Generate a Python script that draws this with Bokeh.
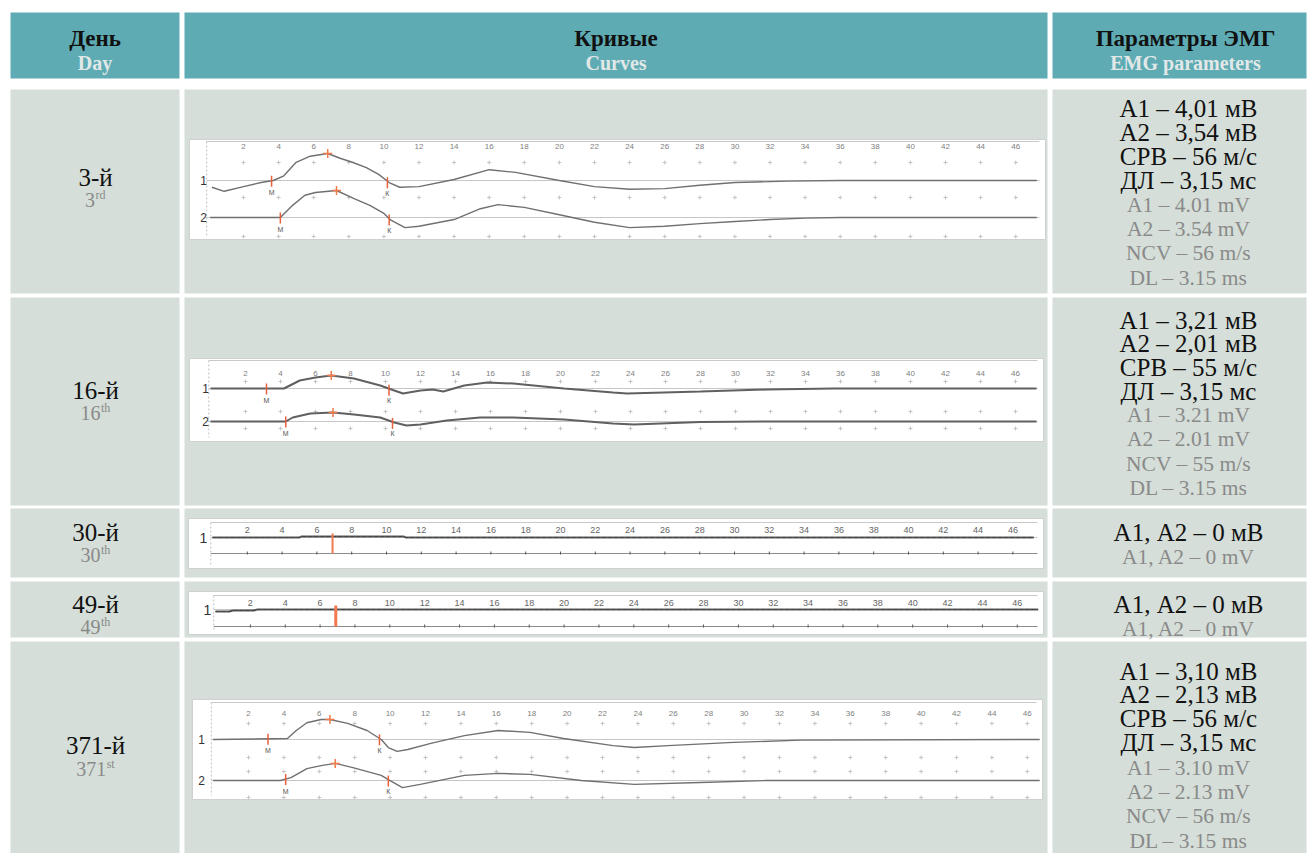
import numpy as np
from bokeh.plotting import figure
from bokeh.models import Range1d
from bokeh.core.properties import value
from bokeh.embed import file_html
from bokeh.resources import INLINE

# ---------------- data ----------------
headers_ru = ["День", "Кривые", "Параметры ЭМГ"]
headers_en = ["Day", "Curves", "EMG parameters"]

days_ru = ["3-й", "16-й", "30-й", "49-й", "371-й"]
days_en_num = ["3", "16", "30", "49", "371"]
days_en_sup = ["rd", "th", "th", "th", "st"]

params_ru = [
    ["А1 – 4,01 мВ", "А2 – 3,54 мВ", "СРВ – 56 м/с", "ДЛ – 3,15 мс"],
    ["А1 – 3,21 мВ", "А2 – 2,01 мВ", "СРВ – 55 м/с", "ДЛ – 3,15 мс"],
    ["А1, А2 – 0 мВ"],
    ["А1, А2 – 0 мВ"],
    ["А1 – 3,10 мВ", "А2 – 2,13 мВ", "СРВ – 56 м/с", "ДЛ – 3,15 мс"],
]
params_en = [
    ["A1 – 4.01 mV", "A2 – 3.54 mV", "NCV – 56 m/s", "DL – 3.15 ms"],
    ["A1 – 3.21 mV", "A2 – 2.01 mV", "NCV – 55 m/s", "DL – 3.15 ms"],
    ["A1, A2 – 0 mV"],
    ["A1, A2 – 0 mV"],
    ["A1 – 3.10 mV", "A2 – 2.13 mV", "NCV – 56 m/s", "DL – 3.15 ms"],
]

tick_ms = [2, 4, 6, 8, 10, 12, 14, 16, 18, 20, 22, 24, 26, 28, 30, 32, 34, 36, 38, 40, 42, 44, 46]
tick_labels = [str(t) for t in tick_ms]

# EMG traces: time (ms) / amplitude (mV)
d3_c1_t = [0.2, 0.9, 2.0, 3.0, 3.7, 4.3, 5.0, 5.8, 6.8, 7.5, 8.2, 9.0, 9.7, 10.3, 10.9, 12, 14, 16, 17.5, 20, 22, 24, 26, 28, 30, 33, 36, 47.2]
d3_c1_v = [-1.0, -1.6, -0.9, -0.3, 0.0, 0.7, 2.7, 3.6, 4.0, 3.3, 2.7, 1.9, 0.9, -0.3, -1.0, -0.9, 0.15, 1.6, 1.2, 0.0, -0.9, -1.3, -1.2, -0.7, -0.3, -0.1, 0.0, 0.0]
d3_c2_t = [0.1, 2, 4.1, 4.8, 5.5, 6.1, 7.3, 8.3, 9.2, 10.0, 10.4, 11.2, 12, 14, 15.5, 16.5, 18, 20, 22, 24, 26, 28, 30, 32, 34, 36, 47.2]
d3_c2_v = [0.0, 0.0, 0.0, 1.8, 3.3, 3.7, 4.0, 2.8, 1.8, 0.6, -0.4, -1.5, -1.3, -0.3, 1.3, 1.9, 1.5, 0.4, -0.7, -1.5, -1.3, -0.9, -0.6, -0.3, -0.1, 0.0, 0.0]

d16_c1_t = [0, 4.2, 5.1, 6.0, 6.9, 8.2, 9.7, 10.5, 11, 12, 12.7, 13.3, 14.5, 15.8, 17.3, 20.2, 23, 23.8, 28, 31.8, 35.6, 47.2]
d16_c1_v = [0, 0, 2.0, 2.75, 3.25, 2.5, 0.75, -0.5, -1.25, -0.5, -0.25, -0.75, 0.75, 1.5, 1.25, 0, -1.0, -1.25, -0.75, -0.25, 0, 0]
d16_c2_t = [0, 4.3, 4.7, 5.7, 7.0, 8.2, 9.7, 10.5, 11.2, 12, 13.5, 15.4, 17.3, 20.2, 23, 24.2, 28, 31.8, 47.2]
d16_c2_v = [0, 0, 1.0, 2.0, 2.25, 1.75, 1.0, -0.25, -1.0, -0.75, 0.25, 1.0, 1.0, 0.5, -0.5, -0.75, -0.1, 0, 0]

d30_c1_t = [0, 5.0, 5.1, 11.0, 11.1, 47.2]
d30_c1_v = [0, 0, 0.2, 0.2, 0, 0]

d49_c1_t = [0, 0.8, 1.0, 2.2, 2.4, 47.2]
d49_c1_v = [-0.4, -0.4, -0.2, -0.2, 0, 0]

d371_c1_t = [0, 4.2, 4.7, 5.3, 6.1, 6.6, 7.6, 8.7, 9.5, 9.9, 10.4, 11, 12.3, 14.2, 16.1, 17.9, 19.8, 22.6, 23.8, 25.7, 29.4, 33.2, 46.7]
d371_c1_v = [0, 0.15, 1.4, 2.6, 3.1, 3.1, 2.5, 1.4, 0, -1.25, -1.85, -1.55, -0.6, 0.6, 1.4, 1.1, 0.15, -0.95, -1.25, -0.95, -0.45, -0.1, 0]
d371_c2_t = [0, 3.8, 4.4, 5.3, 6.1, 6.9, 7.9, 9.5, 9.9, 10.7, 11.7, 14.2, 16.1, 17.9, 20.8, 23.8, 27.5, 31.3, 46.7]
d371_c2_v = [0, 0, 0.45, 1.85, 2.3, 2.65, 2.0, 0.8, 0.15, -1.1, -0.6, 0.8, 1.1, 0.95, 0, -0.6, -0.3, 0, 0]

# marker times (ms): [M, peak, K]
d3_c1_marks = [3.6, 6.8, 10.2]
d3_c2_marks = [4.1, 7.3, 10.3]
d16_c1_marks = [3.2, 6.9, 10.2]
d16_c2_marks = [4.3, 7.0, 10.4]
d371_c1_marks = [3.1, 6.6, 9.4]
d371_c2_marks = [4.1, 6.9, 9.9]
d30_stim = 6.9
d49_stim = 6.9

traces = [
    [("1", d3_c1_t, d3_c1_v, d3_c1_marks), ("2", d3_c2_t, d3_c2_v, d3_c2_marks)],
    [("1", d16_c1_t, d16_c1_v, d16_c1_marks), ("2", d16_c2_t, d16_c2_v, d16_c2_marks)],
    [("1", d30_c1_t, d30_c1_v, None)],
    [("1", d49_c1_t, d49_c1_v, None)],
    [("1", d371_c1_t, d371_c1_v, d371_c1_marks), ("2", d371_c2_t, d371_c2_v, d371_c2_marks)],
]
stims = [None, None, d30_stim, d49_stim, None]

# ---------------- layout / style ----------------
X0, X1, Y0, Y1 = 0, 1311, 0, 853
TEAL = "#5eabb3"
CELL = "#d5ded8"
GRAY_TXT = "#8a8a8a"
HDR_GRAY = "#e2e8e8"
SERIF = value("Liberation Serif")
SANS = value("Liberation Sans")
RED = "#e8603c"

cols = [(10, 179), (184, 1047), (1052, 1306)]
header_band = (12, 78)
row_bands = [(89, 293), (297, 505), (508, 577), (581, 637), (641, 870)]
day_y = [(177, 199), (390, 412), (532, 554), (604, 626), (745, 768)]
params_y = [
    [108, 132, 156, 180, 204, 228, 252, 277],
    [320, 343, 367, 391, 414, 438, 463, 487],
    [532, 556],
    [604, 628],
    [671, 694, 718, 742, 767, 791, 815, 840],
]
panels = [
    dict(l=189, r=1045, t=139, b=239, x0=207.9, s=17.55, base=[180, 217], k=6.75,
         tick_y=146, dots=[162, 197, 236], top=141, lab_x=203, thick=1.4, col="#707070"),
    dict(l=189, r=1043, t=358, b=441, x0=210, s=17.5, base=[388, 421], k=4.0,
         tick_y=373, dots=[381, 411, 428], top=360, lab_x=205, thick=2.0, col="#606060"),
    dict(l=188, r=1043, t=518, b=568, x0=212, s=17.4, base=[537], k=5.0,
         tick_y=529, dots=[], top=522, lab_x=203, thick=2.0, col="#5a5a5a", axis=553),
    dict(l=188, r=1043, t=591, b=634, x0=215, s=17.43, base=[609], k=5.0,
         tick_y=602, dots=[], top=595, lab_x=207, thick=2.0, col="#5a5a5a", axis=626),
    dict(l=192, r=1042, t=699, b=799, x0=212.6, s=17.7, base=[739, 780], k=6.45,
         tick_y=713, dots=[723, 757, 771, 797], top=702, lab_x=201, thick=1.4, col="#707070"),
]

p = figure(width=X1 - X0, height=Y1 - Y0, x_range=Range1d(X0, X1), y_range=Range1d(Y1, Y0),
           output_backend="svg", toolbar_location=None, min_border=0,
           x_axis_location=None, y_axis_location=None)
p.grid.visible = False
p.outline_line_color = None
p.background_fill_color = "white"
p.border_fill_color = "white"

# header cells
for (l, r), ru, en in zip(cols, headers_ru, headers_en):
    p.quad(left=l, right=r, top=header_band[0], bottom=header_band[1], fill_color=TEAL, line_color=None)
    cx = (l + r) / 2 + (0 if l < 1000 else 6)
    p.text(x=cx, y=38, text=[ru], text_font=SERIF, text_font_style="bold", text_font_size="23px",
           text_color="#111111", text_align="center", text_baseline="middle")
    p.text(x=cx, y=62, text=[en], text_font=SERIF, text_font_style="bold", text_font_size="20px",
           text_color=HDR_GRAY, text_align="center", text_baseline="middle")

# body cells
for (t, b) in row_bands:
    for (l, r) in cols:
        p.quad(left=l, right=r, top=t, bottom=b, fill_color=CELL, line_color=None)

# day column
sup_w = {"r": 0.333, "d": 0.5, "t": 0.278, "h": 0.5, "s": 0.389}
for i, (ru, num, sup) in enumerate(zip(days_ru, days_en_num, days_en_sup)):
    yr, ye = day_y[i]
    p.text(x=95, y=yr, text=[ru], text_font=SERIF, text_font_size="25px", text_color="#111111",
           text_align="center", text_baseline="middle")
    w_main = 0.5 * 20 * len(num)
    w_sup = sum(sup_w[c] for c in sup) * 13
    xs = 95 - (w_main + w_sup) / 2 + w_main
    p.text(x=xs, y=ye, text=[num], text_font=SERIF, text_font_size="20px", text_color=GRAY_TXT,
           text_align="right", text_baseline="middle")
    p.text(x=xs + 0.5, y=ye - 5, text=[sup], text_font=SERIF, text_font_size="12px", text_color=GRAY_TXT,
           text_align="left", text_baseline="middle")

# parameters column
for i in range(5):
    ys = params_y[i]
    lines = params_ru[i] + params_en[i]
    nru = len(params_ru[i])
    for j, (yy, s) in enumerate(zip(ys, lines)):
        black = j < nru
        p.text(x=1188, y=yy, text=[s], text_font=SERIF,
               text_font_size="25px" if black else "21.5px",
               text_color="#111111" if black else GRAY_TXT,
               text_align="center", text_baseline="middle")

# curve panels
for i, g in enumerate(panels):
    xr = f"px{i}"
    p.extra_x_ranges[xr] = Range1d((X0 - g["x0"]) / g["s"], (X1 - g["x0"]) / g["s"])
    t_end = (g["r"] - 6 - g["x0"]) / g["s"]
    p.quad(left=g["l"], right=g["r"], top=g["t"], bottom=g["b"], fill_color="white", line_color="#d0d0d0")
    # top line
    p.segment(x0=[-0.1], x1=[t_end], y0=[g["top"]], y1=[g["top"]], x_range_name=xr,
              line_color="#c9c9c9", line_width=1)
    # left axis (dotted)
    p.segment(x0=[-0.1], x1=[-0.1], y0=[g["top"]], y1=[g["b"] - 4], x_range_name=xr,
              line_color="#c0c0c0", line_width=1, line_dash="2 2")
    # tick labels
    big = "axis" in g
    p.text(x=tick_ms, y=[g["tick_y"]] * len(tick_ms), text=tick_labels, x_range_name=xr,
           text_font=SANS, text_font_size="9px" if big else "8px",
           text_color="#666666" if big else "#808080", text_align="center", text_baseline="middle")
    # grid dots
    for yy in g["dots"]:
        p.scatter(x=tick_ms, y=[yy] * len(tick_ms), x_range_name=xr, marker="cross", size=4,
                  line_color="#c4c4c4", line_width=1)
    # bottom axis (rows with no response)
    if big:
        p.segment(x0=[-0.1], x1=[t_end], y0=[g["axis"]], y1=[g["axis"]], x_range_name=xr,
                  line_color="#8c8c8c", line_width=1)
        p.segment(x0=tick_ms, x1=tick_ms, y0=[g["axis"] - 2] * len(tick_ms),
                  y1=[g["axis"] + 1] * len(tick_ms), x_range_name=xr, line_color="#555555", line_width=1)
    # traces
    for j, (lab, tt, vv, marks) in enumerate(traces[i]):
        yr = f"py{i}_{j}"
        base, k = g["base"][j], g["k"]
        p.extra_y_ranges[yr] = Range1d((base - Y1) / k, (base - Y0) / k)
        p.segment(x0=[-0.1], x1=[t_end], y0=[0], y1=[0], x_range_name=xr, y_range_name=yr,
                  line_color="#c6c6c6", line_width=1)
        p.text(x=g["lab_x"], y=base, text=[lab], text_font=SANS,
               text_font_size="14px" if big else "12px",
               text_color="#333333", text_align="center", text_baseline="middle")
        p.line(tt, vv, x_range_name=xr, y_range_name=yr, line_color=g["col"], line_width=g["thick"])
        if big:
            p.line(tt, vv, x_range_name=xr, y_range_name=yr, line_color="#444444",
                   line_width=1.2, line_dash="4 2")
        if marks:
            mt, pt, kt = marks
            vm = float(np.interp(mt, tt, vv))
            vp = float(np.interp(pt, tt, vv))
            vk = float(np.interp(kt, tt, vv))
            p.segment(x0=[mt, kt], x1=[mt, kt], y0=[vm + 5 / k, vk + 4 / k], y1=[vm - 6 / k, vk - 7 / k],
                      x_range_name=xr, y_range_name=yr, line_color=RED, line_width=1.5)
            p.text(x=[mt, kt], y=[vm - 12 / k, vk - 12 / k], text=["М", "К"], x_range_name=xr,
                   y_range_name=yr, text_font=SANS, text_font_size="7px", text_color="#555555",
                   text_align="center", text_baseline="middle")
            p.scatter(x=[pt], y=[vp], x_range_name=xr, y_range_name=yr, marker="cross", size=9,
                      line_color="#f07a4a", line_width=1.5)
    if stims[i] is not None:
        st = stims[i]
        b0 = g["base"][0]
        p.segment(x0=[st], x1=[st], y0=[b0 - 4], y1=[g["axis"]], x_range_name=xr,
                  line_color="#f07a50", line_width=2 if i == 2 else 3)

open("out.html", "w").write(file_html(p, INLINE))
